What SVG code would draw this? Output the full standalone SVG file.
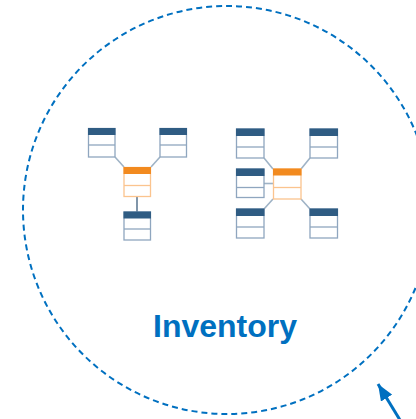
<svg xmlns="http://www.w3.org/2000/svg" width="416" height="419" viewBox="0 0 416 419">
<defs>
<style>
.b{fill:#fff;stroke:#8fa6bf;stroke-width:1.3}
.bh{fill:#2f5c83}
.bl{stroke:#8fa6bf;stroke-width:1.3}
.o{fill:#fff;stroke:#fbc48e;stroke-width:1.3}
.oh{fill:#f28a1f}
.ol{stroke:#fbc48e;stroke-width:1.3}
.c{stroke:#9fb3c6;stroke-width:1.6;fill:none}
</style>
<marker id="ah" viewBox="0 0 10 8" refX="10" refY="4" markerWidth="5.5" markerHeight="4.4" orient="auto" markerUnits="strokeWidth">
<path d="M0,0 L10,4 L0,8 z" fill="#0070c0"/>
</marker>
</defs>
<rect width="416" height="419" fill="#fff"/>
<circle cx="227" cy="210" r="204" fill="none" stroke="#0070c0" stroke-width="2" stroke-dasharray="6,4"/>
<g id="connectors">
<line class="c" x1="115" y1="157" x2="124" y2="167"/>
<line class="c" x1="160" y1="157" x2="151" y2="167"/>
<line x1="137" y1="197" x2="137" y2="212" stroke="#3d5d7c" stroke-width="1.3"/>
<line class="c" x1="264" y1="158" x2="273" y2="169"/>
<line class="c" x1="310" y1="158" x2="301" y2="169"/>
<line class="c" x1="264" y1="183.5" x2="273" y2="183.5"/>
<line class="c" x1="264" y1="209" x2="273" y2="199"/>
<line class="c" x1="310" y1="209" x2="301" y2="199"/>
<line x1="400" y1="420" x2="378" y2="384" stroke="#0070c0" stroke-width="3" marker-end="url(#ah)"/>
</g>
<g id="t1"><rect class="b" x="88.5" y="128.5" width="26.5" height="28.5"/><rect class="bh" x="88" y="128" width="27.5" height="7"/><line class="bl" x1="88.5" y1="145" x2="115" y2="145"/></g>
<g id="t2"><rect class="b" x="160" y="128.5" width="26.5" height="28.5"/><rect class="bh" x="159.5" y="128" width="27.5" height="7"/><line class="bl" x1="160" y1="145" x2="186.5" y2="145"/></g>
<g id="t3"><rect class="o" x="124" y="167.5" width="26.5" height="29"/><rect class="oh" x="123.5" y="167" width="27.5" height="7"/><line class="ol" x1="124" y1="185.5" x2="150.5" y2="185.5"/></g>
<g id="t4"><rect class="b" x="124" y="212" width="26.5" height="28"/><rect class="bh" x="123.5" y="211.5" width="27.5" height="7"/><line class="bl" x1="124" y1="229" x2="150.5" y2="229"/></g>
<g id="t5"><rect class="b" x="236.5" y="129" width="27.5" height="29"/><rect class="bh" x="236" y="128.5" width="28.5" height="7.5"/><line class="bl" x1="236.5" y1="147" x2="264" y2="147"/></g>
<g id="t6"><rect class="b" x="310" y="129" width="27.5" height="29"/><rect class="bh" x="309.5" y="128.5" width="28.5" height="7.5"/><line class="bl" x1="310" y1="147" x2="337.5" y2="147"/></g>
<g id="t7"><rect class="b" x="236.5" y="169" width="27.5" height="28.5"/><rect class="bh" x="236" y="168.5" width="28.5" height="7.5"/><line class="bl" x1="236.5" y1="187.5" x2="264" y2="187.5"/></g>
<g id="t8"><rect class="o" x="273.5" y="169" width="27.5" height="30"/><rect class="oh" x="273" y="168.5" width="28.5" height="7"/><line class="ol" x1="273.5" y1="187.5" x2="301" y2="187.5"/></g>
<g id="t9"><rect class="b" x="236.5" y="209" width="27.5" height="29"/><rect class="bh" x="236" y="208.5" width="28.5" height="7.5"/><line class="bl" x1="236.5" y1="227" x2="264" y2="227"/></g>
<g id="t10"><rect class="b" x="310" y="209" width="27.5" height="29"/><rect class="bh" x="309.5" y="208.5" width="28.5" height="7.5"/><line class="bl" x1="310" y1="227" x2="337.5" y2="227"/></g>
<g id="label"><text x="225" y="337" text-anchor="middle" font-family="'Liberation Sans', Arial, sans-serif" font-weight="bold" font-size="32" fill="#0070c0">Inventory</text></g>
</svg>
